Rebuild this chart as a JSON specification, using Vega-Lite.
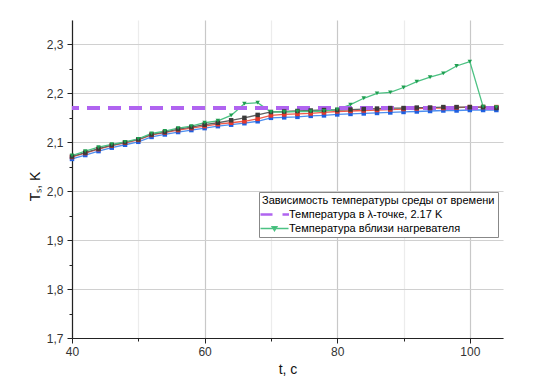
{
  "$schema": "https://vega.github.io/schema/vega-lite/v6.json",
  "width": 431,
  "height": 318,
  "autosize": {"type": "none"},
  "padding": {"left": 72, "top": 20, "right": 50, "bottom": 49},
  "background": "white",
  "config": {
    "view": {"stroke": null},
    "font": "Liberation Sans"
  },
  "data": {
    "values": [
      {"t":40,"T":2.066,"s":"Ряд 1"},{"t":42,"T":2.074,"s":"Ряд 1"},{"t":44,"T":2.082,"s":"Ряд 1"},{"t":46,"T":2.089,"s":"Ряд 1"},{"t":48,"T":2.095,"s":"Ряд 1"},{"t":50,"T":2.101,"s":"Ряд 1"},{"t":52,"T":2.111,"s":"Ряд 1"},{"t":54,"T":2.116,"s":"Ряд 1"},{"t":56,"T":2.121,"s":"Ряд 1"},{"t":58,"T":2.125,"s":"Ряд 1"},{"t":60,"T":2.129,"s":"Ряд 1"},{"t":62,"T":2.133,"s":"Ряд 1"},{"t":64,"T":2.136,"s":"Ряд 1"},{"t":66,"T":2.139,"s":"Ряд 1"},{"t":68,"T":2.143,"s":"Ряд 1"},{"t":70,"T":2.150,"s":"Ряд 1"},{"t":72,"T":2.151,"s":"Ряд 1"},{"t":74,"T":2.152,"s":"Ряд 1"},{"t":76,"T":2.154,"s":"Ряд 1"},{"t":78,"T":2.155,"s":"Ряд 1"},{"t":80,"T":2.157,"s":"Ряд 1"},{"t":82,"T":2.158,"s":"Ряд 1"},{"t":84,"T":2.159,"s":"Ряд 1"},{"t":86,"T":2.160,"s":"Ряд 1"},{"t":88,"T":2.161,"s":"Ряд 1"},{"t":90,"T":2.162,"s":"Ряд 1"},{"t":92,"T":2.163,"s":"Ряд 1"},{"t":94,"T":2.164,"s":"Ряд 1"},{"t":96,"T":2.165,"s":"Ряд 1"},{"t":98,"T":2.165,"s":"Ряд 1"},{"t":100,"T":2.166,"s":"Ряд 1"},{"t":102,"T":2.166,"s":"Ряд 1"},{"t":104,"T":2.166,"s":"Ряд 1"},
      {"t":40,"T":2.070,"s":"Ряд 2"},{"t":42,"T":2.078,"s":"Ряд 2"},{"t":44,"T":2.086,"s":"Ряд 2"},{"t":46,"T":2.093,"s":"Ряд 2"},{"t":48,"T":2.099,"s":"Ряд 2"},{"t":50,"T":2.105,"s":"Ряд 2"},{"t":52,"T":2.115,"s":"Ряд 2"},{"t":54,"T":2.120,"s":"Ряд 2"},{"t":56,"T":2.125,"s":"Ряд 2"},{"t":58,"T":2.129,"s":"Ряд 2"},{"t":60,"T":2.133,"s":"Ряд 2"},{"t":62,"T":2.137,"s":"Ряд 2"},{"t":64,"T":2.140,"s":"Ряд 2"},{"t":66,"T":2.143,"s":"Ряд 2"},{"t":68,"T":2.148,"s":"Ряд 2"},{"t":70,"T":2.155,"s":"Ряд 2"},{"t":72,"T":2.157,"s":"Ряд 2"},{"t":74,"T":2.158,"s":"Ряд 2"},{"t":76,"T":2.159,"s":"Ряд 2"},{"t":78,"T":2.161,"s":"Ряд 2"},{"t":80,"T":2.163,"s":"Ряд 2"},{"t":82,"T":2.164,"s":"Ряд 2"},{"t":84,"T":2.165,"s":"Ряд 2"},{"t":86,"T":2.166,"s":"Ряд 2"},{"t":88,"T":2.167,"s":"Ряд 2"},{"t":90,"T":2.168,"s":"Ряд 2"},{"t":92,"T":2.169,"s":"Ряд 2"},{"t":94,"T":2.170,"s":"Ряд 2"},{"t":96,"T":2.170,"s":"Ряд 2"},{"t":98,"T":2.171,"s":"Ряд 2"},{"t":100,"T":2.172,"s":"Ряд 2"},{"t":102,"T":2.172,"s":"Ряд 2"},{"t":104,"T":2.172,"s":"Ряд 2"},
      {"t":40,"T":2.071,"s":"Ряд 3"},{"t":42,"T":2.079,"s":"Ряд 3"},{"t":44,"T":2.087,"s":"Ряд 3"},{"t":46,"T":2.094,"s":"Ряд 3"},{"t":48,"T":2.100,"s":"Ряд 3"},{"t":50,"T":2.106,"s":"Ряд 3"},{"t":52,"T":2.116,"s":"Ряд 3"},{"t":54,"T":2.121,"s":"Ряд 3"},{"t":56,"T":2.127,"s":"Ряд 3"},{"t":58,"T":2.131,"s":"Ряд 3"},{"t":60,"T":2.136,"s":"Ряд 3"},{"t":62,"T":2.140,"s":"Ряд 3"},{"t":64,"T":2.145,"s":"Ряд 3"},{"t":66,"T":2.150,"s":"Ряд 3"},{"t":68,"T":2.156,"s":"Ряд 3"},{"t":70,"T":2.162,"s":"Ряд 3"},{"t":72,"T":2.163,"s":"Ряд 3"},{"t":74,"T":2.164,"s":"Ряд 3"},{"t":76,"T":2.165,"s":"Ряд 3"},{"t":78,"T":2.166,"s":"Ряд 3"},{"t":80,"T":2.166,"s":"Ряд 3"},{"t":82,"T":2.167,"s":"Ряд 3"},{"t":84,"T":2.168,"s":"Ряд 3"},{"t":86,"T":2.169,"s":"Ряд 3"},{"t":88,"T":2.170,"s":"Ряд 3"},{"t":90,"T":2.170,"s":"Ряд 3"},{"t":92,"T":2.171,"s":"Ряд 3"},{"t":94,"T":2.171,"s":"Ряд 3"},{"t":96,"T":2.172,"s":"Ряд 3"},{"t":98,"T":2.172,"s":"Ряд 3"},{"t":100,"T":2.172,"s":"Ряд 3"},{"t":102,"T":2.172,"s":"Ряд 3"},{"t":104,"T":2.170,"s":"Ряд 3"},
      {"t":40,"T":2.073,"s":"Температура вблизи нагревателя"},{"t":42,"T":2.082,"s":"Температура вблизи нагревателя"},{"t":44,"T":2.090,"s":"Температура вблизи нагревателя"},{"t":46,"T":2.096,"s":"Температура вблизи нагревателя"},{"t":48,"T":2.101,"s":"Температура вблизи нагревателя"},{"t":50,"T":2.107,"s":"Температура вблизи нагревателя"},{"t":52,"T":2.118,"s":"Температура вблизи нагревателя"},{"t":54,"T":2.123,"s":"Температура вблизи нагревателя"},{"t":56,"T":2.129,"s":"Температура вблизи нагревателя"},{"t":58,"T":2.133,"s":"Температура вблизи нагревателя"},{"t":60,"T":2.140,"s":"Температура вблизи нагревателя"},{"t":62,"T":2.144,"s":"Температура вблизи нагревателя"},{"t":64,"T":2.155,"s":"Температура вблизи нагревателя"},{"t":66,"T":2.179,"s":"Температура вблизи нагревателя"},{"t":68,"T":2.181,"s":"Температура вблизи нагревателя"},{"t":70,"T":2.162,"s":"Температура вблизи нагревателя"},{"t":72,"T":2.162,"s":"Температура вблизи нагревателя"},{"t":74,"T":2.163,"s":"Температура вблизи нагревателя"},{"t":76,"T":2.163,"s":"Температура вблизи нагревателя"},{"t":78,"T":2.164,"s":"Температура вблизи нагревателя"},{"t":80,"T":2.167,"s":"Температура вблизи нагревателя"},{"t":82,"T":2.177,"s":"Температура вблизи нагревателя"},{"t":84,"T":2.190,"s":"Температура вблизи нагревателя"},{"t":86,"T":2.200,"s":"Температура вблизи нагревателя"},{"t":88,"T":2.202,"s":"Температура вблизи нагревателя"},{"t":90,"T":2.212,"s":"Температура вблизи нагревателя"},{"t":92,"T":2.224,"s":"Температура вблизи нагревателя"},{"t":94,"T":2.233,"s":"Температура вблизи нагревателя"},{"t":96,"T":2.241,"s":"Температура вблизи нагревателя"},{"t":98,"T":2.256,"s":"Температура вблизи нагревателя"},{"t":100,"T":2.265,"s":"Температура вблизи нагревателя"},{"t":102,"T":2.173,"s":"Температура вблизи нагревателя"},{"t":104,"T":2.172,"s":"Температура вблизи нагревателя"}
    ]
  },
  "encoding": {
    "x": {
      "field": "t", "type": "quantitative",
      "scale": {"domain": [40, 105], "nice": false, "zero": false},
      "axis": {
        "values": [40, 50, 60, 70, 80, 90, 100],
        "labelExpr": "datum.value % 20 == 0 ? datum.label : ''",
        "labelFlush": false,
        "labelOverlap": false,
        "title": "t, c",
        "titleFont": "Liberation Sans", "titleFontSize": 14, "titleFontWeight": "normal", "titleColor": "#111",
        "titlePadding": 5,
        "labelFont": "Liberation Sans", "labelFontSize": 12, "labelColor": "#333", "labelPadding": 3,
        "domainColor": "#222", "domainWidth": 1.2,
        "tickColor": "#222", "tickWidth": 1,
        "tickSize": {"condition": {"test": "datum.value % 20 == 0", "value": 5}, "value": 3},
        "grid": true,
        "gridColor": {"condition": {"test": "datum.value % 20 == 0", "value": "#c8c8c8"}, "value": "#ececec"},
        "gridWidth": 1.2
      }
    },
    "y": {
      "field": "T", "type": "quantitative",
      "scale": {"domain": [1.7, 2.35], "nice": false, "zero": false},
      "axis": {
        "values": [1.7, 1.75, 1.8, 1.85, 1.9, 1.95, 2.0, 2.05, 2.1, 2.15, 2.2, 2.25, 2.3],
        "labelExpr": "abs(datum.value*10 - round(datum.value*10)) < 0.01 ? replace(format(datum.value, '.1f'), '.', ',') : ''",
        "labelFlush": false,
        "labelOverlap": false,
        "title": "Tₛ, K",
        "titleFont": "Liberation Sans", "titleFontSize": 14, "titleFontWeight": "normal", "titleColor": "#111",
        "titlePadding": 4,
        "titleY": 166,
        "labelFont": "Liberation Sans", "labelFontSize": 12, "labelColor": "#333", "labelPadding": 4,
        "domainColor": "#222", "domainWidth": 1.2,
        "tickColor": "#222", "tickWidth": 1,
        "tickSize": {"condition": {"test": "abs(datum.value*10 - round(datum.value*10)) < 0.01", "value": 5}, "value": 3},
        "grid": true,
        "gridColor": "#d0d0d0",
        "gridOpacity": {"condition": {"test": "abs(datum.value*10 - round(datum.value*10)) < 0.01", "value": 1}, "value": 0},
        "gridWidth": 1.2
      }
    }
  },
  "layer": [
    {
      "mark": {"type": "line", "strokeWidth": 1.3},
      "encoding": {
        "color": {
          "field": "s", "type": "nominal",
          "scale": {
            "domain": ["Ряд 1", "Ряд 2", "Ряд 3", "Температура вблизи нагревателя", "Температура в λ-точке, 2.17 K"],
            "range": ["#4d8ff0", "#f25a4a", "#606060", "#4cc283", "#b064f0"]
          },
          "legend": {
            "values": ["Температура в λ-точке, 2.17 K", "Температура вблизи нагревателя"],
            "title": "Зависимость температуры среды от времени",
            "orient": "none", "legendX": 187, "legendY": 172,
            "direction": "vertical",
            "titleFont": "Liberation Sans", "titleFontSize": 11, "titleFontWeight": "normal", "titleColor": "#000",
            "titleLimit": 400, "titlePadding": 3,
            "labelFont": "Liberation Sans", "labelFontSize": 11, "labelColor": "#000", "labelLimit": 400,
            "fillColor": "white", "strokeColor": "#888", "padding": 3,
            "symbolSize": 100, "symbolOffset": 7, "labelOffset": 9, "rowPadding": 2,
            "encode": {
              "symbols": {
                "update": {
                  "shape": {"signal": "datum.value === 'Температура вблизи нагревателя' ? 'M-2.8,0H2.8M-0.5,-0.35H0.5L0,0.45Z' : 'M-2.8,0H-0.4M1.6,0H2.9'"},
                  "strokeWidth": {"signal": "datum.value === 'Температура вблизи нагревателя' ? 1.3 : 2.5"},
                  "fill": {"signal": "datum.value === 'Температура вблизи нагревателя' ? '#1f9e50' : 'transparent'"},
                  "stroke": {"signal": "datum.value === 'Температура вблизи нагревателя' ? '#4cc283' : '#b064f0'"},
                  "strokeDash": {"value": []},
                  "opacity": {"value": 1}
                }
              }
            }
          }
        }
      }
    },
    {
      "mark": {"type": "rule", "strokeWidth": 2.8, "strokeDash": [12, 9], "strokeDashOffset": 5.3},
      "encoding": {
        "x": {"datum": 40},
        "x2": {"datum": 105},
        "y": {"datum": 2.17},
        "color": {"datum": "Температура в λ-точке, 2.17 K"}
      }
    },
    {
      "mark": {"type": "point", "filled": true, "size": 20, "opacity": 1},
      "encoding": {
        "shape": {
          "field": "s", "type": "nominal",
          "scale": {"domain": ["Ряд 1", "Ряд 2", "Ряд 3", "Температура вблизи нагревателя"], "range": ["square", "square", "square", "triangle-down"]},
          "legend": null
        },
        "fill": {
          "field": "s", "type": "nominal",
          "scale": {"domain": ["Ряд 1", "Ряд 2", "Ряд 3", "Температура вблизи нагревателя"], "range": ["#1f5fe0", "#e83a2a", "#3a3a3a", "#1f9e50"]},
          "legend": null
        }
      }
    }
  ]
}
